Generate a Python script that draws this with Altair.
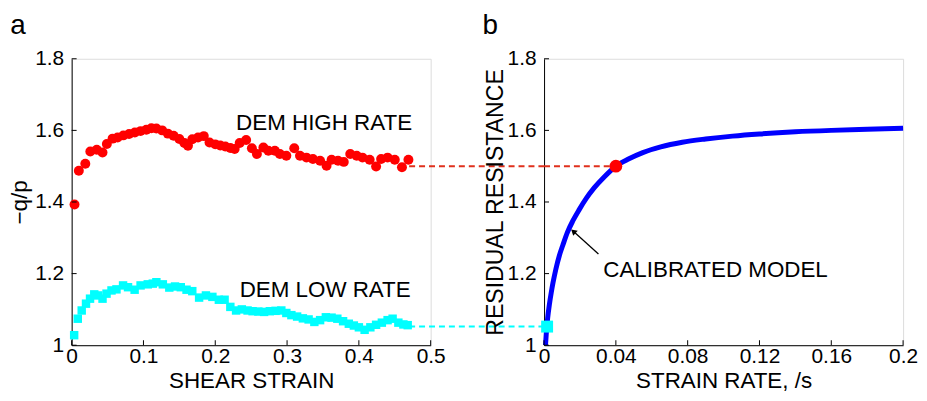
import altair as alt
import pandas as pd

# ---------------- data ----------------
high_x = [0.004, 0.010, 0.019, 0.026, 0.035, 0.043, 0.049, 0.057, 0.064, 0.072,
          0.080, 0.088, 0.096, 0.104, 0.111, 0.118, 0.126, 0.134, 0.142, 0.150,
          0.157, 0.162, 0.168, 0.176, 0.184, 0.192, 0.200, 0.207, 0.214, 0.221,
          0.227, 0.234, 0.243, 0.251, 0.258, 0.267, 0.274, 0.283, 0.290, 0.299,
          0.310, 0.318, 0.327, 0.336, 0.346, 0.355, 0.362, 0.371, 0.379, 0.388,
          0.397, 0.405, 0.415, 0.424, 0.431, 0.440, 0.450, 0.460, 0.469]
high_y = [1.393, 1.487, 1.507, 1.541, 1.546, 1.538, 1.562, 1.577, 1.580, 1.586,
          1.590, 1.594, 1.598, 1.602, 1.606, 1.605, 1.600, 1.591, 1.585, 1.576,
          1.565, 1.557, 1.575, 1.580, 1.584, 1.566, 1.561, 1.558, 1.555, 1.551,
          1.548, 1.565, 1.573, 1.550, 1.534, 1.552, 1.543, 1.543, 1.534, 1.529,
          1.550, 1.529, 1.524, 1.520, 1.515, 1.501, 1.518, 1.515, 1.512, 1.534,
          1.529, 1.524, 1.518, 1.499, 1.520, 1.524, 1.518, 1.497, 1.518]

low_x = [0.0035, 0.0085, 0.014, 0.020, 0.0256, 0.0315, 0.037, 0.043, 0.0486, 0.0555,
         0.0624, 0.0716, 0.0785, 0.0877, 0.096, 0.106, 0.113, 0.118, 0.127, 0.136,
         0.144, 0.152, 0.160, 0.168, 0.1775, 0.187, 0.196, 0.205, 0.213, 0.221,
         0.229, 0.237, 0.245, 0.252, 0.260, 0.268, 0.276, 0.284, 0.292, 0.299,
         0.306, 0.314, 0.322, 0.330, 0.338, 0.346, 0.354, 0.362, 0.370, 0.378,
         0.386, 0.393, 0.400, 0.408, 0.416, 0.424, 0.432, 0.440, 0.447, 0.455,
         0.462, 0.468]
low_y = [1.028, 1.074, 1.097, 1.116, 1.130, 1.142, 1.139, 1.130, 1.144, 1.153,
         1.156, 1.167, 1.162, 1.155, 1.167, 1.170, 1.172, 1.176, 1.170, 1.161,
         1.164, 1.162, 1.155, 1.151, 1.133, 1.139, 1.135, 1.127, 1.127, 1.107,
         1.097, 1.100, 1.097, 1.095, 1.094, 1.093, 1.095, 1.096, 1.097, 1.090,
         1.084, 1.080, 1.075, 1.072, 1.065, 1.070, 1.078, 1.077, 1.074, 1.067,
         1.060, 1.055, 1.050, 1.043, 1.050, 1.057, 1.063, 1.070, 1.074, 1.063,
         1.058, 1.056]

model_x = [0.0008, 0.0012, 0.002, 0.003, 0.004, 0.005, 0.0066, 0.0085, 0.0105, 0.013,
           0.016, 0.0195, 0.0235, 0.028, 0.0335, 0.040, 0.047, 0.055, 0.065, 0.077,
           0.090, 0.105, 0.120, 0.140, 0.160, 0.180, 0.200]
model_y = [1.000, 1.030, 1.075, 1.115, 1.147, 1.175, 1.213, 1.250, 1.280, 1.315,
           1.347, 1.378, 1.410, 1.440, 1.470, 1.500, 1.520, 1.538, 1.554, 1.567,
           1.576, 1.584, 1.590, 1.596, 1.600, 1.603, 1.606]

high_level = 1.50      # DEM high rate residual level
low_level = 1.052      # DEM low rate residual level
high_rate = 0.04       # strain rate of the high-rate run
low_rate = 0.0017      # strain rate of the low-rate run
dash_start = 0.47

left_xticks = [0, 0.1, 0.2, 0.3, 0.4, 0.5]
right_xticks = [0, 0.04, 0.08, 0.12, 0.16, 0.2]
yticks = [1, 1.2, 1.4, 1.6, 1.8]

labels_left = ["DEM HIGH RATE", "DEM LOW RATE"]
labels_left_x = [0.229, 0.234]
labels_left_y = [1.621, 1.153]

model_label = "CALIBRATED MODEL"
model_label_xy = (0.033, 1.209)
arrow_tail = (0.0303, 1.255)
arrow_head = (0.0163, 1.318)

W, H = 361, 288
GAP = 114
FONT = "Liberation Sans"
TICK_FS = 21
TITLE_FS = 22.5
ANN_FS = 22.5

high = pd.DataFrame({"x": high_x, "y": high_y})
low = pd.DataFrame({"x": low_x, "y": low_y})
model = pd.DataFrame({"x": model_x, "y": model_y})

yscale = alt.Scale(domain=[1, 1.8], nice=False, zero=False)
lx = alt.Scale(domain=[0, 0.5], nice=False, zero=False)
rx = alt.Scale(domain=[0, 0.2], nice=False, zero=False)


def xaxis(title, values):
    return alt.Axis(title=title, values=values, format=".2~f", ticks=False, grid=False,
                    labelFontSize=TICK_FS, titleFontSize=TITLE_FS, labelPadding=0, titlePadding=4,
                    domainColor="black", labelColor="black", titleColor="black",
                    labelFont=FONT, titleFont=FONT, titleFontWeight="normal",
                    labelFlush=False, labelOverlap=False)


def yaxis(title, tpad, tfs):
    return alt.Axis(title=title, values=yticks, format=".1~f", ticks=False, grid=False,
                    labelFontSize=TICK_FS, titleFontSize=tfs, labelPadding=8, titlePadding=tpad,
                    domainColor="black", labelColor="black", titleColor="black",
                    labelFont=FONT, titleFont=FONT, titleFontWeight="normal",
                    labelFlush=False, labelOverlap=False)


def inner_ticks(xvals, xsc):
    xt = alt.Chart(pd.DataFrame({"x": xvals})).mark_rule(color="black", strokeWidth=1).encode(
        x=alt.X("x:Q", scale=xsc), y=alt.value(H), y2=alt.value(H - 5))
    yt = alt.Chart(pd.DataFrame({"y": yticks})).mark_rule(color="black", strokeWidth=1).encode(
        y=alt.Y("y:Q", scale=yscale), x=alt.value(0), x2=alt.value(5))
    return xt + yt


def panel_letter(letter):
    return alt.Chart(pd.DataFrame({"t": [letter]})).mark_text(
        fontSize=28, font=FONT, align="center", baseline="middle", color="black").encode(
        text="t:N", x=alt.value(-54), y=alt.value(-33))


# ---------------- left panel ----------------
base_l = alt.Chart(high).mark_circle(color="#ff0000", opacity=1, size=100).encode(
    x=alt.X("x:Q", scale=lx, axis=xaxis("SHEAR STRAIN", left_xticks)),
    y=alt.Y("y:Q", scale=yscale, axis=yaxis("\u2212q/p", 3, TITLE_FS)),
)
low_pts = alt.Chart(low).mark_square(color="#00ffff", opacity=1, size=72).encode(
    x=alt.X("x:Q", scale=lx), y=alt.Y("y:Q", scale=yscale))

dash_l_red = alt.Chart(pd.DataFrame({"x": [dash_start], "y": [high_level]})).mark_rule(
    strokeDash=[6, 4], strokeWidth=2, color="#e0301c").encode(
    x=alt.X("x:Q", scale=lx), x2=alt.value(W + GAP), y=alt.Y("y:Q", scale=yscale))
dash_l_cyan = alt.Chart(pd.DataFrame({"x": [dash_start], "y": [low_level]})).mark_rule(
    strokeDash=[6, 4], strokeWidth=2, color="#00ffff").encode(
    x=alt.X("x:Q", scale=lx), x2=alt.value(W + GAP + 3), y=alt.Y("y:Q", scale=yscale))

txt_l = alt.Chart(pd.DataFrame({"t": labels_left, "x": labels_left_x, "y": labels_left_y})).mark_text(
    fontSize=ANN_FS, font=FONT, align="left", baseline="middle", color="black").encode(
    x=alt.X("x:Q", scale=lx), y=alt.Y("y:Q", scale=yscale), text="t:N")

left = alt.layer(dash_l_red, dash_l_cyan, base_l, low_pts, txt_l,
                 inner_ticks(left_xticks, lx), panel_letter("a")).properties(width=W, height=H)

# ---------------- right panel ----------------
line_r = alt.Chart(model).mark_line(color="#0000ff", strokeWidth=5, interpolate="monotone").encode(
    x=alt.X("x:Q", scale=rx, axis=xaxis("STRAIN RATE, /s", right_xticks)),
    y=alt.Y("y:Q", scale=yscale, axis=yaxis("RESIDUAL RESISTANCE", 0, 23.2)),
    order="x:Q")
dash_r = alt.Chart(pd.DataFrame({"x": [0], "x2": [high_rate], "y": [high_level]})).mark_rule(
    strokeDash=[6, 4], strokeWidth=2, color="#e0301c").encode(
    x=alt.X("x:Q", scale=rx), x2="x2:Q", y=alt.Y("y:Q", scale=yscale))
red_pt = alt.Chart(pd.DataFrame({"x": [high_rate], "y": [high_level]})).mark_circle(
    color="#ff0000", opacity=1, size=165).encode(
    x=alt.X("x:Q", scale=rx), y=alt.Y("y:Q", scale=yscale))
cyan_pt = alt.Chart(pd.DataFrame({"x": [low_rate], "y": [low_level]})).mark_square(
    color="#00ffff", opacity=1, size=144).encode(
    x=alt.X("x:Q", scale=rx), y=alt.Y("y:Q", scale=yscale))
arrow_line = alt.Chart(pd.DataFrame({"x": [arrow_tail[0]], "y": [arrow_tail[1]],
                                     "x2": [arrow_head[0]], "y2": [arrow_head[1]]})).mark_rule(
    color="black", strokeWidth=1.3).encode(
    x=alt.X("x:Q", scale=rx), y=alt.Y("y:Q", scale=yscale), x2="x2:Q", y2="y2:Q")
arrow_tip = alt.Chart(pd.DataFrame({"x": [arrow_head[0]], "y": [arrow_head[1]]})).mark_point(
    shape="triangle-up", filled=True, color="black", opacity=1, size=45, angle=312).encode(
    x=alt.X("x:Q", scale=rx), y=alt.Y("y:Q", scale=yscale))
txt_r = alt.Chart(pd.DataFrame({"t": [model_label], "x": [model_label_xy[0]],
                                "y": [model_label_xy[1]]})).mark_text(
    fontSize=ANN_FS, font=FONT, align="left", baseline="middle", color="black").encode(
    x=alt.X("x:Q", scale=rx), y=alt.Y("y:Q", scale=yscale), text="t:N")

right = alt.layer(line_r, dash_r, red_pt, cyan_pt, arrow_line, arrow_tip, txt_r,
                  inner_ticks(right_xticks, rx), panel_letter("b")).properties(width=W, height=H)

chart = alt.hconcat(left, right, spacing=GAP, bounds="flush").properties(
    padding={"left": 0, "top": 2, "right": 0, "bottom": 0}
).configure_view(stroke=None).configure(font=FONT, background="white")

chart.save("out.html", embed_options={"renderer": "svg", "actions": False})
